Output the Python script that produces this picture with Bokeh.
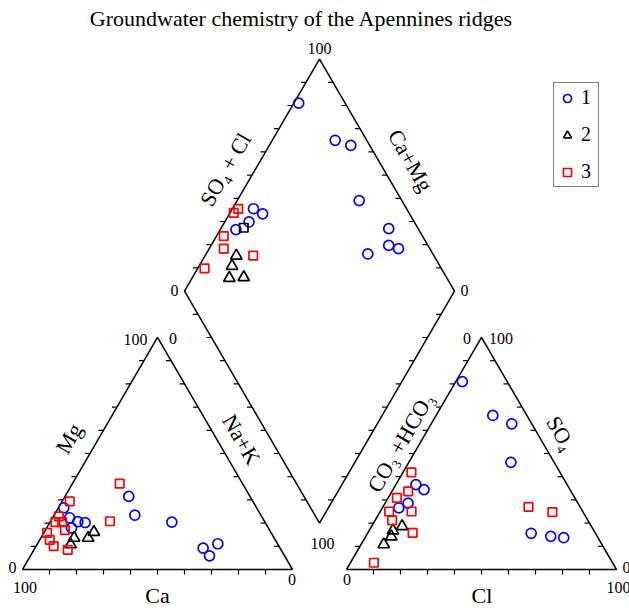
import numpy as np
from bokeh.plotting import figure
from bokeh.models import Range1d, Legend, LegendItem
from bokeh.core.properties import value
from bokeh.embed import file_html
from bokeh.resources import INLINE

# ---------------- data (percent) ----------------
# Cation triangle: Mg %, Na+K %  (Ca = 100 - Mg - Na+K)
cat1_mg  = [26.6, 22.3, 20.6, 20.2, 17.9, 31.5, 23.4, 20.4, 9.2, 5.9, 11.1]
cat1_nak = [2.0, 6.3, 10.2, 13.1, 9.2, 23.6, 29.9, 45.1, 62.3, 66.3, 66.8]
cat2_mg  = [16.1, 13.6, 13.6, 10.8]
cat2_nak = [18.4, 17.5, 12.3, 12.4]
cat3_mg  = [37.0, 29.4, 22.9, 20.4, 20.4, 17.0, 15.8, 12.8, 10.1, 8.5, 20.8]
cat3_nak = [17.5, 2.8, 2.0, 2.0, 4.5, 7.2, 1.2, 3.7, 6.5, 12.5, 22.0]

# Anion triangle: SO4 %, Cl %  (CO3+HCO3 = 100 - SO4 - Cl)
an1_so4 = [81.0, 66.4, 62.8, 46.2, 36.6, 34.4, 28.6, 26.6, 15.6, 14.3, 13.7]
an1_cl  = [2.4, 21.0, 29.8, 37.8, 7.4, 11.5, 8.5, 6.1, 60.6, 68.5, 73.6]
an2_so4 = [18.6, 16.8, 14.2, 10.8]
an2_cl  = [11.3, 8.8, 9.5, 8.4]
an3_so4 = [41.9, 33.7, 30.9, 25.0, 25.0, 21.2, 15.8, 2.9, 27.0, 24.7]
an3_cl  = [3.1, 6.0, 3.2, 3.3, 11.6, 6.3, 16.6, 8.7, 53.9, 63.9]

# Diamond: Ca+Mg %, SO4+Cl %
dia1_camg  = [98.2, 76.7, 69.8, 54.8, 37.8, 34.2, 29.9, 40.1, 92.2, 87.7, 91.0, 94.2]
dia1_so4cl = [82.8, 88.3, 93.0, 84.2, 89.1, 85.5, 88.4, 75.9, 43.3, 45.6, 38.8, 32.3]
dia2_camg  = [88.4, 87.8, 86.2, 81.0]
dia2_so4cl = [26.8, 23.0, 19.4, 24.9]
dia3_camg  = [97.8, 98.6, 97.3, 94.6, 82.2, 97.5]
dia3_so4cl = [37.6, 35.1, 26.4, 23.7, 33.1, 12.3]
dia4_camg  = [91.7]
dia4_so4cl = [35.6]

legend_labels = ["1", "2", "3"]
title_text = "Groundwater chemistry of the Apennines ridges"

# ---------------- geometry ----------------
H = np.sqrt(3) / 2
GAP = 20.0


def cat_xy(mg, nak):
    mg = np.asarray(mg, float); nak = np.asarray(nak, float)
    return nak + 0.5 * mg, H * mg


def an_xy(so4, cl):
    so4 = np.asarray(so4, float); cl = np.asarray(cl, float)
    return 100 + GAP + cl + 0.5 * so4, H * so4


def dia_xy(camg, so4cl):
    camg = np.asarray(camg, float); s = np.asarray(so4cl, float)
    return 100 + GAP / 2 + 0.5 * (s - camg), GAP * H + H * (camg + s)


SX, SY = 2.7, 2.679


def px2x(px):
    return (px - 22) / SX


def py2y(py):
    return (569 - py) / SY


W, HT = 629, 608
p = figure(width=W, height=HT, output_backend="svg", toolbar_location=None,
           x_range=Range1d(px2x(0), px2x(W)), y_range=Range1d(py2y(HT), py2y(0)),
           x_axis_type=None, y_axis_type=None, min_border=0)
p.outline_line_color = None
p.background_fill_color = "white"

# outlines
L0 = np.array([0, 0]); L1 = np.array([100, 0]); LT = np.array([50, 100 * H])
R0 = np.array([100 + GAP, 0]); R1 = np.array([200 + GAP, 0]); RT = np.array([150 + GAP, 100 * H])
DB = np.array([100 + GAP / 2, GAP * H]); DL = DB + np.array([-50, 100 * H])
DR = DB + np.array([50, 100 * H]); DT = DB + np.array([0, 200 * H])

polys = [[L0, L1, LT, L0], [R0, R1, RT, R0], [DB, DL, DT, DR, DB]]
p.multi_line(xs=[[q[0] for q in poly] for poly in polys],
             ys=[[q[1] for q in poly] for poly in polys],
             line_color="black", line_width=1.5)

# ticks
tx, ty = [], []
tl_x = 5 / SX
tl_y = 5 / SY
for a, b in [(L0, LT), (L1, LT), (R0, RT), (R1, RT), (DB, DL), (DB, DR), (DL, DT), (DR, DT)]:
    for k in range(1, 10):
        pt = a + (b - a) * k / 10
        tx.append([pt[0], pt[0] - tl_x]); ty.append([pt[1], pt[1]])
for a, b in [(L0, L1), (R0, R1)]:
    for k in range(1, 10):
        pt = a + (b - a) * k / 10
        tx.append([pt[0], pt[0]]); ty.append([pt[1], pt[1] - tl_y])
p.multi_line(xs=tx, ys=ty, line_color="black", line_width=1.2)

# markers
BLUE = "#0000ff"; RED = "#ff0000"; BLACK = "#000000"
rs = {}
groups = [
    (cat_xy(cat1_mg, cat1_nak), "circle", BLUE, 10, "g1"),
    (an_xy(an1_so4, an1_cl), "circle", BLUE, 10, None),
    (dia_xy(dia1_camg, dia1_so4cl), "circle", BLUE, 10, None),
    (cat_xy(cat2_mg, cat2_nak), "triangle", BLACK, 11.5, "g2"),
    (an_xy(an2_so4, an2_cl), "triangle", BLACK, 11.5, None),
    (dia_xy(dia2_camg, dia2_so4cl), "triangle", BLACK, 11.5, None),
    (cat_xy(cat3_mg, cat3_nak), "square", RED, 8.5, "g3"),
    (an_xy(an3_so4, an3_cl), "square", RED, 8.5, None),
    (dia_xy(dia3_camg, dia3_so4cl), "square", RED, 8.5, None),
    (dia_xy(dia4_camg, dia4_so4cl), "square", BLACK, 8.5, None),
]
for (xs, ys), marker, color, size, key in groups:
    r = p.scatter(x=list(xs), y=list(ys), marker=marker, size=size,
                  line_color=color, line_width=1.7, fill_color=None)
    if key:
        rs[key] = r

FONT = value("Liberation Serif")

# tick labels (page pixel positions)
tick_labels = [("100", 135, 338.5), ("0", 172.5, 338), ("0", 12, 567), ("100", 24.5, 587), ("0", 291.5, 579),
               ("0", 466.5, 337.5), ("100", 500.5, 337.5), ("0", 346.5, 579), ("100", 618, 586.5), ("0", 626, 567),
               ("100", 319, 48), ("0", 174, 290), ("0", 464, 290), ("100", 322, 543)]
p.text(x=[px2x(t[1]) for t in tick_labels], y=[py2y(t[2]) for t in tick_labels],
       text=[t[0] for t in tick_labels], text_font=FONT, text_font_size="16px",
       text_align="center", text_baseline="middle", text_color="black")

axis_labels = [("Mg", 68.5, 438, 60), ("Na+K", 241, 439, -60), ("Ca", 157, 595, 0), ("Cl", 481.5, 595, 0),
               ("SO\u2084", 560.5, 433, -60), ("CO\u2083 +HCO\u2083", 400, 442, 60),
               ("SO\u2084 + Cl", 225, 169, 60), ("Ca+Mg", 410, 160, -60)]
p.text(x=[px2x(t[1]) for t in axis_labels], y=[py2y(t[2]) for t in axis_labels],
       text=[t[0] for t in axis_labels], angle=[np.deg2rad(t[3]) for t in axis_labels],
       text_font=FONT, text_font_size="22px", text_align="center", text_baseline="middle",
       text_color="black")

p.text(x=[px2x(301)], y=[py2y(18)], text=[title_text], text_font=FONT, text_font_size="22px",
       text_align="center", text_baseline="middle", text_color="black")

legend = Legend(items=[LegendItem(label=legend_labels[0], renderers=[rs["g1"]]),
                       LegendItem(label=legend_labels[1], renderers=[rs["g2"]]),
                       LegendItem(label=legend_labels[2], renderers=[rs["g3"]])],
                location=(553, 421), orientation="vertical",
                border_line_color="black", border_line_width=1.5,
                padding=3, spacing=14, margin=0,
                glyph_width=20, glyph_height=20, label_standoff=4,
                label_width=14, label_height=20,
                label_text_font="Liberation Serif", label_text_font_size="20px",
                label_text_color="black",
                background_fill_color="white", background_fill_alpha=1.0)
p.add_layout(legend)

open("out.html", "w").write(file_html(p, INLINE))
